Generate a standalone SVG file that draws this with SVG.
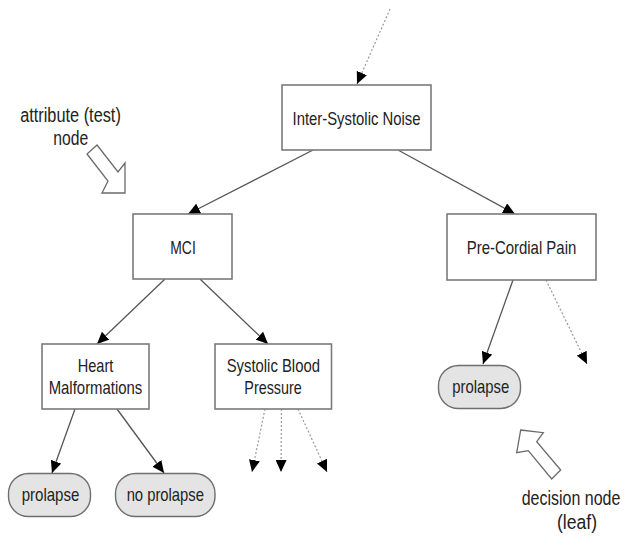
<svg xmlns="http://www.w3.org/2000/svg" width="625" height="537" viewBox="0 0 625 537">
<style>
.box{fill:#fff;stroke:#7a7a7a;stroke-width:1.6}
.leaf{fill:#e4e4e4;stroke:#6e6e6e;stroke-width:1.4}
.t{font-family:"Liberation Sans",Arial,sans-serif;font-size:18.5px;fill:#222;text-anchor:middle}
.a{font-family:"Liberation Sans",Arial,sans-serif;font-size:19.5px;fill:#222;text-anchor:middle}
.e{fill:none;stroke:#555;stroke-width:1.3}
.d{fill:none;stroke:#999;stroke-width:1.2;stroke-dasharray:2 2}
.hollow{fill:#fff;stroke:#6a6a6a;stroke-width:1.3;stroke-linejoin:miter}
</style>
<defs>
<marker id="ah" markerUnits="userSpaceOnUse" markerWidth="13" markerHeight="11" refX="12" refY="5.5" orient="auto">
<path d="M0,0 L12,5.5 L0,11 Z" fill="#000"/>
</marker>
</defs>
<rect width="625" height="537" fill="#fff"/>
<g id="connectors">
<line class="d" x1="390" y1="9" x2="357" y2="84" marker-end="url(#ah)"/>
<line class="e" x1="313" y1="150" x2="188" y2="214" marker-end="url(#ah)"/>
<line class="e" x1="398" y1="150" x2="515" y2="214" marker-end="url(#ah)"/>
<line class="e" x1="165" y1="279" x2="97" y2="344" marker-end="url(#ah)"/>
<line class="e" x1="200" y1="279" x2="268" y2="344" marker-end="url(#ah)"/>
<line class="e" x1="513" y1="280" x2="483" y2="364" marker-end="url(#ah)"/>
<line class="d" x1="546" y1="280" x2="587" y2="364" marker-end="url(#ah)"/>
<line class="e" x1="75" y1="409" x2="52" y2="473" marker-end="url(#ah)"/>
<line class="e" x1="117" y1="409" x2="164" y2="473" marker-end="url(#ah)"/>
<line class="d" x1="265" y1="409" x2="252" y2="472" marker-end="url(#ah)"/>
<line class="d" x1="281.5" y1="409" x2="281" y2="472" marker-end="url(#ah)"/>
<line class="d" x1="298" y1="409" x2="327" y2="472" marker-end="url(#ah)"/>
</g>
<g id="inter-systolic-noise">
<rect class="box" x="282" y="85" width="149" height="65"/>
<text class="t" x="356.5" y="124.5" textLength="128" lengthAdjust="spacingAndGlyphs">Inter-Systolic Noise</text>
</g>
<g id="mci">
<rect class="box" x="133" y="214" width="99" height="65"/>
<text class="t" x="183" y="254" textLength="25.5" lengthAdjust="spacingAndGlyphs">MCI</text>
</g>
<g id="pre-cordial-pain">
<rect class="box" x="447" y="214" width="149" height="66"/>
<text class="t" x="521.5" y="254" textLength="109.5" lengthAdjust="spacingAndGlyphs">Pre-Cordial Pain</text>
</g>
<g id="heart-malformations">
<rect class="box" x="42" y="344" width="107" height="65"/>
<text class="t" x="95.5" y="371.5" textLength="35.6" lengthAdjust="spacingAndGlyphs">Heart</text>
<text class="t" x="95.5" y="394" textLength="93.7" lengthAdjust="spacingAndGlyphs">Malformations</text>
</g>
<g id="systolic-blood-pressure">
<rect class="box" x="215" y="344" width="116.5" height="65"/>
<text class="t" x="273.3" y="371.5" textLength="93.3" lengthAdjust="spacingAndGlyphs">Systolic Blood</text>
<text class="t" x="273" y="394" textLength="57.3" lengthAdjust="spacingAndGlyphs">Pressure</text>
</g>
<g id="leaf-prolapse-right">
<rect class="leaf" x="438.5" y="365.5" width="82" height="43" rx="20" ry="20"/>
<text class="t" x="480.8" y="393" textLength="57" lengthAdjust="spacingAndGlyphs">prolapse</text>
</g>
<g id="leaf-prolapse-left">
<rect class="leaf" x="8.5" y="473.5" width="82" height="43" rx="20" ry="20"/>
<text class="t" x="50.5" y="500.5" textLength="57.7" lengthAdjust="spacingAndGlyphs">prolapse</text>
</g>
<g id="leaf-no-prolapse">
<rect class="leaf" x="115.5" y="473.5" width="99.5" height="43" rx="20" ry="20"/>
<text class="t" x="165.3" y="500.5" textLength="77.3" lengthAdjust="spacingAndGlyphs">no prolapse</text>
</g>
<g id="annotation-attribute">
<text class="a" x="70.5" y="121.5" textLength="100.7" lengthAdjust="spacingAndGlyphs">attribute (test)</text>
<text class="a" x="70.8" y="145" textLength="35" lengthAdjust="spacingAndGlyphs">node</text>
<polygon class="hollow" points="97,145 118,172 125,163 125,193 102,193 108,181 87,154"/>
</g>
<g id="annotation-decision">
<polygon class="hollow" points="520.7,430 543.3,432.7 536.7,441.7 560.7,470 551.7,479 528.3,450.7 516.7,452.7"/>
<text class="a" transform="translate(571,504.5) scale(0.82,1)" x="0" y="0">decision node</text>
<text class="a" transform="translate(577,528.5) scale(0.9,1)" x="0" y="0">(leaf)</text>
</g>
</svg>
